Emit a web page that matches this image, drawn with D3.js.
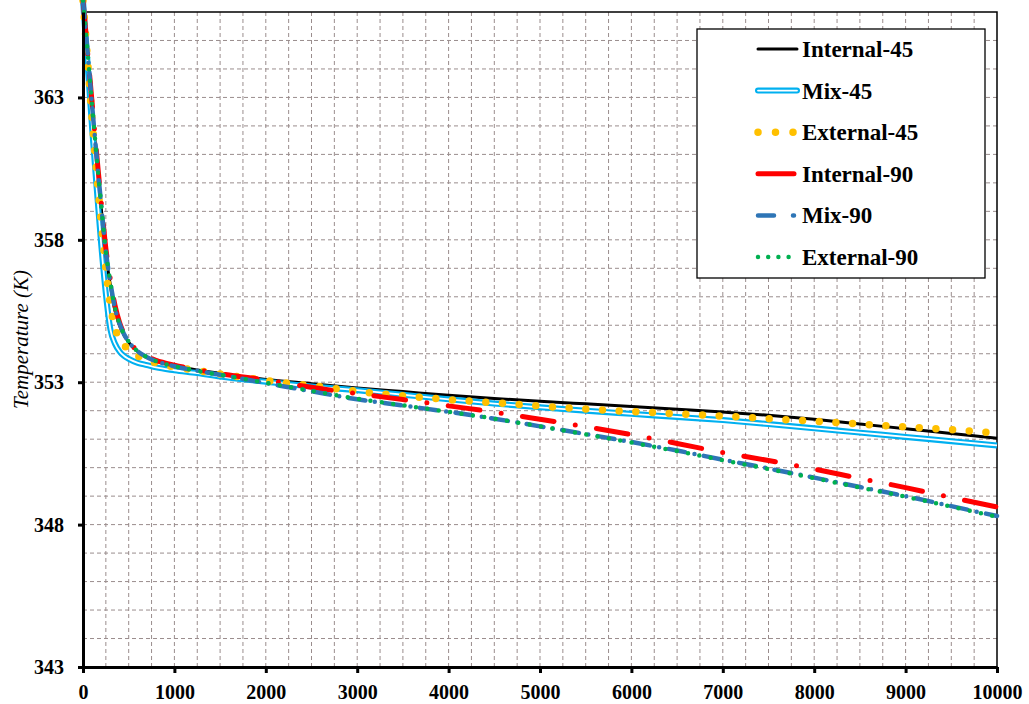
<!DOCTYPE html>
<html>
<head>
<meta charset="utf-8">
<script src="https://cdn.jsdelivr.net/npm/d3@7"></script>
<style>
	body { margin: 0; background: #fff; }
	svg { display: block; }
	svg text { font-family: "Liberation Serif", "Times New Roman", "DejaVu Serif", serif; }
</style>
</head>
<body>
<svg id="chart" width="1029" height="704"></svg>
<script>
// time (s) and temperatures (K)
const times = [0, 50, 100, 150, 200, 250, 300, 350, 400, 450, 500, 600, 700, 800, 1000, 1250, 1500,
	2000, 2500, 3000, 3500, 4000, 4500, 5000, 5500, 6000, 6500, 7000, 7500, 8000, 8500, 9000, 9500, 10000];

const internal45 = [366.4, 364.5, 362.6, 360.8, 359.1, 357.5, 356.4, 355.5, 355.0, 354.65, 354.4, 354.08, 353.88, 353.75, 353.58, 353.43, 353.31,
	353.1, 352.95, 352.8, 352.67, 352.54, 352.43, 352.33, 352.24, 352.15, 352.05, 351.95, 351.84, 351.7, 351.53, 351.37, 351.2, 351.03];
const mix45 = [366.4, 364.2, 361.9, 359.8, 357.8, 356.1, 354.85, 354.35, 354.08, 353.92, 353.82, 353.68, 353.6, 353.52, 353.42, 353.32, 353.2,
	353.02, 352.85, 352.72, 352.56, 352.4, 352.25, 352.12, 352.0, 351.89, 351.78, 351.67, 351.53, 351.38, 351.23, 351.08, 350.93, 350.78];
const external45 = [366.4, 364.3, 362.2, 360.3, 358.6, 357.0, 355.7, 354.9, 354.55, 354.3, 354.13, 353.92, 353.78, 353.68, 353.54, 353.41, 353.29,
	353.06, 352.88, 352.68, 352.52, 352.39, 352.28, 352.16, 352.06, 351.97, 351.89, 351.81, 351.72, 351.63, 351.53, 351.43, 351.33, 351.22];
const internal90 = [366.4, 364.6, 362.8, 361.0, 359.3, 357.7, 356.6, 355.7, 355.1, 354.7, 354.43, 354.1, 353.9, 353.77, 353.6, 353.44, 353.3,
	353.08, 352.82, 352.6, 352.39, 352.17, 351.95, 351.7, 351.44, 351.16, 350.85, 350.53, 350.25, 349.95, 349.62, 349.3, 348.95, 348.62];
const mix90 = [366.4, 364.6, 362.7, 360.9, 359.2, 357.6, 356.5, 355.6, 355.05, 354.68, 354.42, 354.08, 353.88, 353.74, 353.56, 353.4, 353.26,
	352.97, 352.68, 352.4, 352.18, 351.96, 351.72, 351.45, 351.18, 350.9, 350.6, 350.28, 349.97, 349.65, 349.32, 349.0, 348.65, 348.3];
const external90 = [366.4, 364.6, 362.7, 360.9, 359.2, 357.6, 356.5, 355.6, 355.05, 354.68, 354.42, 354.08, 353.88, 353.74, 353.56, 353.4, 353.26,
	352.98, 352.7, 352.42, 352.19, 351.96, 351.72, 351.45, 351.17, 350.88, 350.58, 350.26, 349.95, 349.63, 349.3, 348.98, 348.63, 348.27];

const seriesNames = ["Internal-45", "Mix-45", "External-45", "Internal-90", "Mix-90", "External-90"];
const seriesValues = [internal45, mix45, external45, internal90, mix90, external90];

const xTicks = [0, 1000, 2000, 3000, 4000, 5000, 6000, 7000, 8000, 9000, 10000];
const yTicks = [343, 348, 353, 358, 363];
const yLabel = "Temperature (K)";

// line looks, one per series
const looks = {
	"Internal-45": {stroke: "#000000", width: 3},
	"Mix-45": {stroke: "#00b0f0", width: 6, inner: 1.8},
	"External-45": {stroke: "#ffc000", width: 7.5, dash: "0 16.7", cap: "round", legendDash: "0 17.5"},
	"Internal-90": {stroke: "#ff0000", width: 5, dash: "32 21.5 0 21.5", cap: "round", legendDash: "36 100"},
	"Mix-90": {stroke: "#2e75b6", width: 4.5, dash: "17 9.5 0 9.5", cap: "round", legendDash: "16 19 1 100"},
	"External-90": {stroke: "#00b050", width: 4.5, dash: "0 11.5", cap: "round", legendDash: "0 10.2"}
};

const svg = d3.select("#chart");
const margin = {top: 12, right: 32, bottom: 37, left: 83};
const width = +svg.attr("width") - margin.left - margin.right;
const height = +svg.attr("height") - margin.top - margin.bottom;

const g = svg.append("g").attr("transform", "translate(" + margin.left + "," + margin.top + ")");

const x = d3.scaleLinear().domain([0, 10000]).range([0, width]);
const y = d3.scaleLinear().domain([343, 366]).range([height, 0]);

// dashed grid, every 250 s and every 1 K
const grid = g.append("g")
	.attr("stroke", "#9a8d8d")
	.attr("stroke-width", 1)
	.attr("stroke-dasharray", "4,3");

grid.selectAll("line.v")
	.data(d3.range(250, 10000, 250))
	.enter().append("line")
	.attr("class", "v")
	.attr("x1", d => x(d)).attr("x2", d => x(d))
	.attr("y1", 0).attr("y2", height);

grid.selectAll("line.h")
	.data(d3.range(344, 366, 1))
	.enter().append("line")
	.attr("class", "h")
	.attr("x1", 0).attr("x2", width)
	.attr("y1", d => y(d)).attr("y2", d => y(d));

// top and right frame
g.append("path")
	.attr("d", "M0,0H" + width + "V" + height)
	.attr("fill", "none")
	.attr("stroke", "#000")
	.attr("stroke-width", 1.5);

// series
const line = d3.line()
	.x((d, i) => x(times[i]))
	.y(d => y(d))
	.curve(d3.curveMonotoneX);

const lines = g.append("g").attr("fill", "none");

seriesNames.forEach((name, k) => {
	const lk = looks[name];
	const p = lines.append("path")
		.datum(seriesValues[k])
		.attr("d", line)
		.attr("stroke", lk.stroke)
		.attr("stroke-width", lk.width)
		.attr("stroke-linejoin", "round")
		.attr("stroke-linecap", lk.cap || "butt");
	if (lk.dash) p.attr("stroke-dasharray", lk.dash);
	if (lk.inner) {
		lines.append("path")
			.datum(seriesValues[k])
			.attr("d", line)
			.attr("stroke", "#fff")
			.attr("stroke-width", lk.inner);
	}
});

// axes
const xAxis = g.append("g")
	.attr("transform", "translate(0," + height + ")")
	.call(d3.axisBottom(x).tickValues(xTicks).tickSize(6).tickSizeOuter(0).tickPadding(12).tickFormat(d3.format("d")));

const yAxis = g.append("g")
	.call(d3.axisLeft(y).tickValues(yTicks).tickSize(5).tickSizeOuter(0).tickPadding(14).tickFormat(d3.format("d")));

[xAxis, yAxis].forEach(a => {
	a.attr("font-family", null);
	a.select(".domain").attr("stroke", "#000").attr("stroke-width", 3);
	a.selectAll(".tick line").attr("stroke", "#000").attr("stroke-width", 3);
	a.selectAll(".tick text")
		.attr("fill", "#000")
		.style("font-size", "20px")
		.style("font-weight", "bold");
});

svg.append("text")
	.attr("transform", "translate(28," + (margin.top + height / 2) + ") rotate(-90)")
	.attr("text-anchor", "middle")
	.style("font-size", "21px")
	.style("font-style", "italic")
	.text(yLabel);

// legend
const legend = svg.append("g").attr("transform", "translate(697,29)");

legend.append("rect")
	.attr("width", 288)
	.attr("height", 249)
	.attr("fill", "#fff")
	.attr("stroke", "#000")
	.attr("stroke-width", 1.3);

const item = legend.selectAll("g.item")
	.data(seriesNames)
	.enter().append("g")
	.attr("class", "item")
	.attr("transform", (d, i) => "translate(0," + (20 + i * 41.6) + ")");

item.each(function(name) {
	const lk = looks[name];
	const it = d3.select(this);
	const x0 = 61, x1 = 100;
	const l = it.append("line")
		.attr("x1", x0).attr("x2", x1)
		.attr("stroke", lk.stroke)
		.attr("stroke-width", lk.width)
		.attr("stroke-linecap", lk.cap || "round");
	if (lk.legendDash) l.attr("stroke-dasharray", lk.legendDash);
	if (lk.inner) {
		it.append("line")
			.attr("x1", x0).attr("x2", x1)
			.attr("stroke", "#fff")
			.attr("stroke-width", lk.inner)
			.attr("stroke-linecap", "round");
	}
});

item.append("text")
	.attr("x", 105)
	.attr("dy", "0.35em")
	.style("font-size", "23px")
	.style("font-weight", "bold")
	.text(d => d);
</script>
</body>
</html>
